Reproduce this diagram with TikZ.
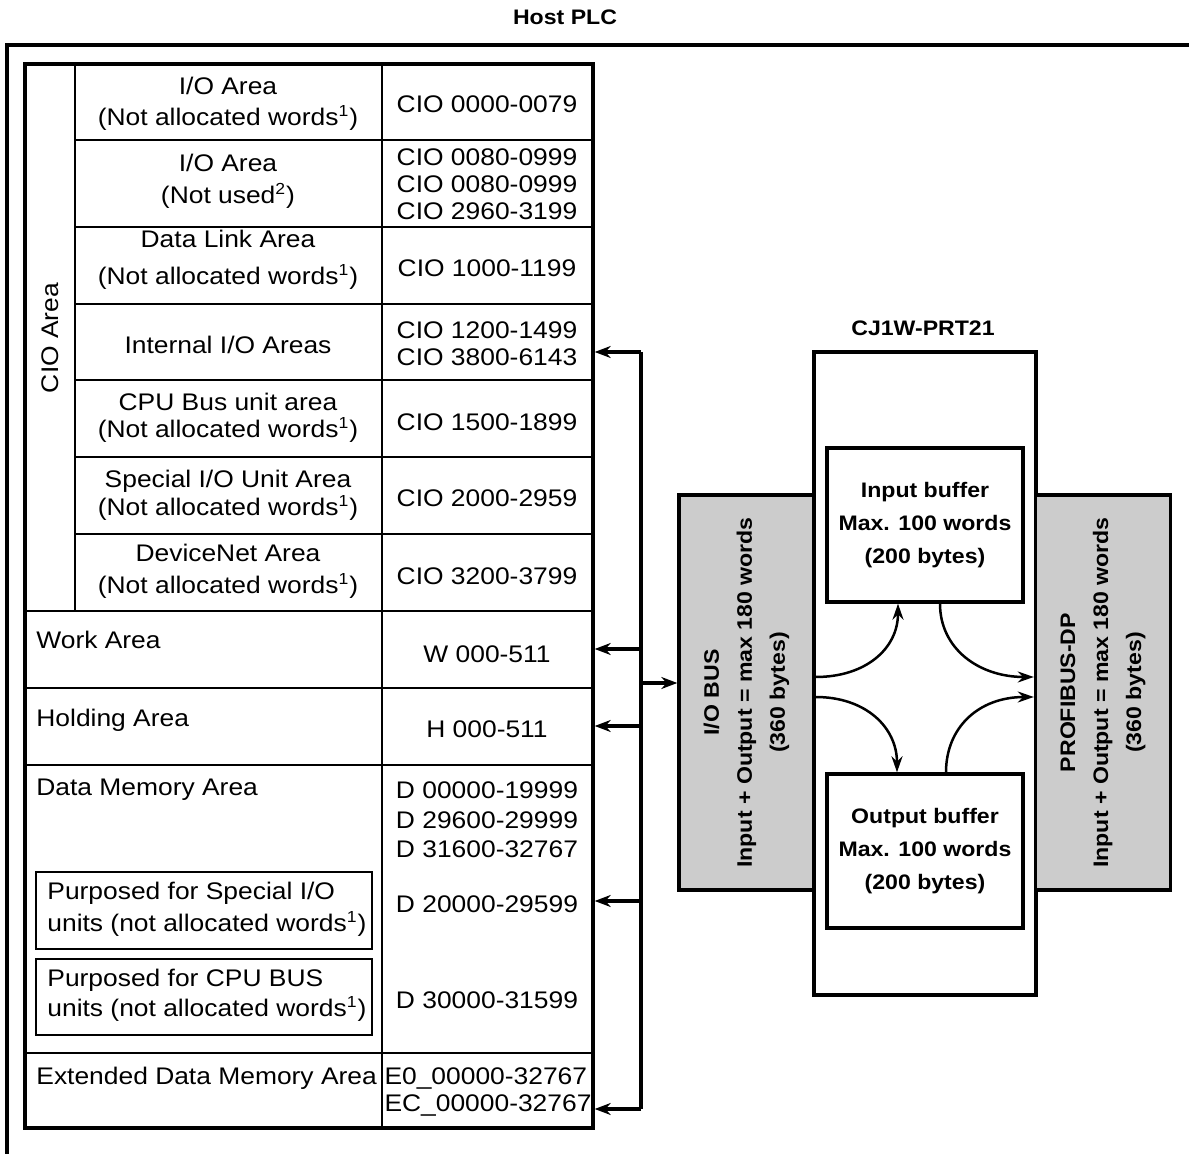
\documentclass[tikz,border=0pt]{standalone}
\usepackage{fontspec}
\setmainfont{Liberation Sans}[FakeStretch=1.1]
\usetikzlibrary{arrows.meta, calc}

\begin{document}
\begin{tikzpicture}[x=0.5pt, y=-0.5pt,
  every node/.style={font=\fontsize{12}{14}\selectfont, inner sep=0pt},
  bold/.style={font=\fontsize{10.5}{16.5}\selectfont\bfseries, align=center},
  frame/.style={line width=1.7pt},
  grid/.style={line width=1.35pt},
  arr/.style={line width=1.7pt, -{Stealth[length=8pt, width=6pt]}},
  flow/.style={line width=1.25pt, -{Stealth[length=8pt, width=5.5pt]}},
  buffer/.style={draw, line width=1.7pt, fill=white, bold, minimum width=98pt, minimum height=77pt},
  busbox/.style={draw, line width=1.7pt, fill=gray!40, minimum width=67.5pt, minimum height=197.5pt}]
\useasboundingbox (0,0) rectangle (1189,1154);

% host PLC frame
\node[bold] (host) at (565,17) {Host PLC};
\draw[frame] (7,1160) -- (7,45) -- (1195,45);

% memory area table
\node[draw, frame, minimum width=284pt, minimum height=532pt] (plc) at (309,596) {};
\draw[grid] (382,64) -- (382,1128);
\draw[line width=1pt] (75,64) -- (75,611);
\foreach \y in {140,227,304,380,457,534}
  \draw[grid] (75,\y) -- (593,\y);
\foreach \y in {611,688,765,1053}
  \draw[grid] (25,\y) -- (593,\y);
\draw[grid] (36,872) rectangle (372,949);
\draw[grid] (36,959) rectangle (372,1035);

\node[rotate=90] (cio) at (50,338) {CIO Area};
\node[align=center] (io1) at (228,104) {I/O Area\\[1.5pt](Not allocated words\textsuperscript{1})};
\node[align=center] (io2) at (228,181) {I/O Area\\[2pt](Not used\textsuperscript{2})};
\node[align=center] (dlink) at (228,260) {Data Link Area\\[4.5pt](Not allocated words\textsuperscript{1})};
\node (intio) at (228,345) {Internal I/O Areas};
\node[align=center] (cpubus) at (228,418) {CPU Bus unit area\\[-0.5pt](Not allocated words\textsuperscript{1})};
\node[align=center] (spio) at (228,495) {Special I/O Unit Area\\(Not allocated words\textsuperscript{1})};
\node[align=center] (dnet) at (228,571) {DeviceNet Area\\[2pt](Not allocated words\textsuperscript{1})};
\node[anchor=west] (work) at (36,640) {Work Area};
\node[anchor=west] (hold) at (36,720) {Holding Area};
\node[anchor=west] (dmem) at (36,790) {Data Memory Area};
\node[anchor=west, align=left] (spdm) at (47,909) {Purposed for Special I/O\\[2pt]units (not allocated words\textsuperscript{1})};
\node[anchor=west, align=left] (cpudm) at (47,995) {Purposed for CPU BUS\\[1pt]units (not allocated words\textsuperscript{1})};
\node[anchor=west] (extdm) at (36,1078) {Extended Data Memory Area};

\node (r1) at (487,104) {CIO 0000-0079};
\node[align=center] (r2) at (487,184) {CIO 0080-0999\\[-0.5pt]CIO 0080-0999\\[-0.5pt]CIO 2960-3199};
\node (r3) at (487,268) {CIO 1000-1199};
\node[align=center] (r4) at (487,344) {CIO 1200-1499\\[-0.5pt]CIO 3800-6143};
\node (r5) at (487,422) {CIO 1500-1899};
\node (r6) at (487,498) {CIO 2000-2959};
\node (r7) at (487,576) {CIO 3200-3799};
\node (rwork) at (487,654) {W 000-511};
\node (rhold) at (487,729) {H 000-511};
\node[align=center] (rdmem) at (487,820) {D 00000-19999\\[0.75pt]D 29600-29999\\[0.75pt]D 31600-32767};
\node (rspdm) at (487,904) {D 20000-29599};
\node (rcpudm) at (487,1000) {D 30000-31599};
\node[align=left] (rextdm) at (488,1092) {E0\_00000-32767\\[-0.5pt]EC\_00000-32767};

% CJ1W-PRT21 unit
\node[draw, line width=1.7pt, minimum width=111pt, minimum height=321.5pt] (prt) at (925,673.5) {};
\node[bold] (prtlabel) at (923,328) {CJ1W-PRT21};
\node[busbox] (iobus) at (746.5,692.5) {};
\node[busbox] (profibus) at (1103,692.5) {};
\node[bold, rotate=90] (iobustext) at (iobus) {I/O BUS\\Input + Output = max 180 words\\(360 bytes)};
\node[bold, rotate=90] (profibustext) at (profibus) {PROFIBUS-DP\\Input + Output = max 180 words\\(360 bytes)};
\node[buffer] (inbuf) at (925,525) {Input buffer\\Max. 100 words\\(200 bytes)};
\node[buffer] (outbuf) at (925,851) {Output buffer\\Max. 100 words\\(200 bytes)};

% I/O bus taps
\foreach \n/\y in {a/352, b/649, c/726, d/901, e/1109, f/683}
  \coordinate (tap\n) at (641,\y);
\draw[frame] (tapa) -- (tape);
\foreach \n in {a,b,c,d,e}
  \draw[arr] (tap\n) -- (tap\n -| plc.east);
\draw[arr] (tapf) -- (tapf -| iobus.west);

% data flow through the buffers
\draw[flow] ($(iobus.east)+(0,-15.5)$) .. controls +(50,0) and +(0,45) .. ($(inbuf.south)+(-27,0)$);
\draw[flow] ($(inbuf.south)+(15,0)$) .. controls +(0,45) and +(-55,0) .. ($(profibus.west)+(0,-15.5)$);
\draw[flow] ($(iobus.east)+(0,4.5)$) .. controls +(50,0) and +(0,-45) .. ($(outbuf.north)+(-28,0)$);
\draw[flow] ($(outbuf.north)+(21,0)$) .. controls +(0,-45) and +(-55,0) .. ($(profibus.west)+(0,4.5)$);
\end{tikzpicture}
\end{document}
